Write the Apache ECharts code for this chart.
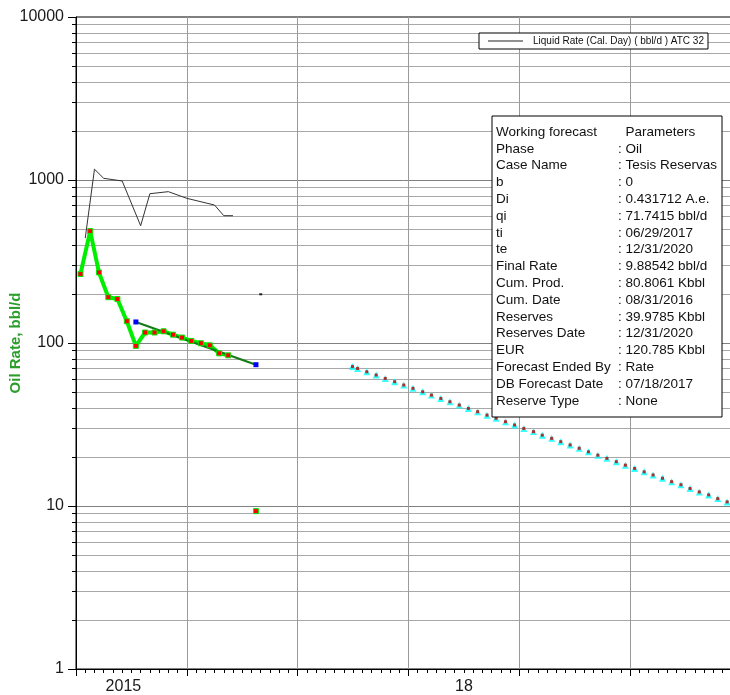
<!DOCTYPE html>
<html>
<head>
<meta charset="utf-8">
<script src="https://cdn.jsdelivr.net/npm/echarts@6/dist/echarts.min.js"></script>
<style>
html, body { margin: 0; padding: 0; background: #fff; }
#chart { width: 730px; height: 695px; }
</style>
</head>
<body>
<div id="chart"></div>
<script>
// oil rate, bbl/d (monthly, plotted mid-month)
const oilDates = ['2015-01-16', '2015-02-16', '2015-03-16', '2015-04-16', '2015-05-16', '2015-06-16',
	'2015-07-16', '2015-08-16', '2015-09-16', '2015-10-16', '2015-11-16', '2015-12-16',
	'2016-01-16', '2016-02-16', '2016-03-16', '2016-04-16', '2016-05-16', '2016-06-16',
	'2016-07-16', '2016-08-16'];
const oilRates = [265, 486, 271, 191, 186, 136, 96, 116, 116, 118, 112.5, 108,
	103, 99.6, 96.8, 86.4, 84, null, null, 9.3];

// liquid rate (cal. day), bbl/d
const liqDates = ['2015-02-01', '2015-03-01', '2015-04-01', '2015-06-01', '2015-08-01', '2015-09-01',
	'2015-11-01', '2016-01-01', '2016-04-01', '2016-05-01', '2016-06-01', '2016-07-01', '2016-09-01'];
const liqRates = [440, 1165, 1024, 986, 524, 824, 848, 772, 702, 604, 604, null, 199];

// fitted decline over history
const fitDates = ['2015-07-16', '2016-08-16'];
const fitRates = [134.6, 73.6];

// forecast: start at ti, then monthly to te
const fcStart = '2017-06-29';
const fcEnd = '2020-12-31';
const fcRates = [71.7, 69.8, 66.6, 63.6, 60.6, 57.9, 55.2, 52.7, 50.2, 47.9, 45.7, 43.6, 41.6,
	39.7, 37.9, 36.1, 34.5, 32.9, 31.4, 29.9, 28.6, 27.2, 26.0, 24.8, 23.7, 22.6, 21.5,
	20.5, 19.6, 18.7, 17.8, 17.0, 16.2, 15.5, 14.8, 14.1, 13.5, 12.8, 12.2, 11.7, 11.1,
	10.6, 10.1, 9.9];

const yearLabels = { 0: '{a|2015}', 36: '18' };

const paramNames = ['Working forecast', 'Phase', 'Case Name', 'b', 'Di', 'qi', 'ti', 'te', 'Final Rate',
	'Cum. Prod.', 'Cum. Date', 'Reserves', 'Reserves Date', 'EUR', 'Forecast Ended By',
	'DB Forecast Date', 'Reserve Type'];
const paramValues = ['  Parameters', ': Oil', ': Tesis Reservas', ': 0', ': 0.431712 A.e.', ': 71.7415 bbl/d',
	': 06/29/2017', ': 12/31/2020', ': 9.88542 bbl/d', ': 80.8061 Kbbl', ': 08/31/2016',
	': 39.9785 Kbbl', ': 12/31/2020', ': 120.785 Kbbl', ': Rate', ': 07/18/2017', ': None'];

// months since 2015-01-01
function toMonth(s) {
	const p = s.split('-').map(Number);
	const dim = new Date(p[0], p[1], 0).getDate();
	return (p[0] - 2015) * 12 + (p[1] - 1) + (p[2] - 1) / dim;
}
function pairs(dates, vals) {
	return dates.map(function (d, i) { return [toMonth(d), vals[i]]; });
}

// forecast dates: ti, mid-month Jul 2017 .. Dec 2020, te
let fcDates = [fcStart];
for (let m = 30; m < 72; m++) {
	const y = 2015 + Math.floor(m / 12), mo = m % 12 + 1;
	fcDates.push(y + '-' + (mo < 10 ? '0' : '') + mo + '-16');
}
fcDates.push(fcEnd);
const fcData = pairs(fcDates, fcRates);

let liqData = pairs(liqDates, liqRates);
liqData[liqData.length - 1] = {
	value: liqData[liqData.length - 1], symbol: 'rect', symbolSize: [3, 2],
	itemStyle: { color: '#222' }
};

let graphics = [{
	type: 'rect', shape: { x: 492, y: 116, width: 230, height: 301 },
	style: { fill: '#fff', stroke: '#000', lineWidth: 1 }, z: 100
}];
paramNames.forEach(function (t, i) {
	const y = 132 + i * 16.8;
	graphics.push({ type: 'text', x: 496, y: y, z: 101,
		style: { text: t, font: '13.5px "Liberation Sans", Arial', fill: '#111', verticalAlign: 'middle' } });
	graphics.push({ type: 'text', x: 618, y: y, z: 101,
		style: { text: paramValues[i], font: '13.5px "Liberation Sans", Arial', fill: '#111', verticalAlign: 'middle' } });
});

const chart = echarts.init(document.getElementById('chart'));
chart.setOption({
	animation: false,
	backgroundColor: '#fff',
	textStyle: { fontFamily: '"Liberation Sans", Arial' },
	grid: {
		left: 76, right: -11, top: 17, bottom: 26, containLabel: false, outerBoundsMode: 'none',
		show: true, borderColor: '#000', borderWidth: 1
	},
	legend: {
		left: 479, top: 33, padding: [1.5, 4, 1.5, 9], itemGap: 0,
		itemWidth: 35, itemHeight: 1.2, icon: 'rect',
		borderColor: '#000', borderWidth: 1, backgroundColor: '#fff', borderRadius: 0,
		textStyle: { fontSize: 10, color: '#111', padding: [0, 0, 0, 5], lineHeight: 13 },
		data: ['Liquid Rate (Cal. Day) ( bbl/d ) ATC 32']
	},
	xAxis: [{
		type: 'value', min: 0, max: 72, interval: 12,
		axisLine: { lineStyle: { color: '#000' } },
		axisTick: { length: 7, lineStyle: { color: '#000' } },
		minorTick: { show: true, splitNumber: 12, length: 4, lineStyle: { color: '#000' } },
		splitLine: { show: true, lineStyle: { color: '#9a9a9a' } },
		axisLabel: { show: false }
	}, {
		type: 'value', min: -6, max: 66, interval: 6, position: 'bottom',
		axisLine: { show: false }, axisTick: { show: false }, splitLine: { show: false },
		axisLabel: {
			margin: 10, fontSize: 16, color: '#1a1a1a',
			formatter: function (v) { return yearLabels[v] || ''; },
			rich: { a: { fontSize: 16, color: '#1a1a1a', padding: [0, 16, 0, 0] } }
		}
	}],
	yAxis: {
		type: 'log', logBase: 10, min: 1, max: 10000,
		name: 'Oil Rate, bbl/d', nameLocation: 'middle', nameRotate: 90, nameGap: 53,
		nameMoveOverlap: false,
		nameTextStyle: { color: '#2a9d2a', fontSize: 15, fontWeight: 'bold' },
		axisLine: { show: true, lineStyle: { color: '#000' } },
		axisTick: { show: true, length: 8, lineStyle: { color: '#000' } },
		minorTick: { show: true, splitNumber: 9, length: 4, lineStyle: { color: '#000' } },
		splitLine: { show: true, lineStyle: { color: '#808080' } },
		minorSplitLine: { show: true, lineStyle: { color: '#a8a8a8' } },
		axisLabel: { margin: 12, fontSize: 16, color: '#1a1a1a', formatter: function (v) { return String(v); } }
	},
	graphic: graphics,
	series: [{
		name: 'Liquid Rate (Cal. Day) ( bbl/d ) ATC 32', type: 'line',
		data: liqData, symbol: 'none', showSymbol: true,
		lineStyle: { color: '#333', width: 1 }, itemStyle: { color: '#222' }
	}, {
		name: 'Oil', type: 'line', data: pairs(oilDates, oilRates),
		symbol: 'rect', symbolSize: 5, showAllSymbol: true,
		lineStyle: { color: '#00ee00', width: 4 },
		itemStyle: { color: '#ff0000', borderColor: '#00ee00', borderWidth: 1 }
	}, {
		name: 'Fit', type: 'line', data: pairs(fitDates, fitRates),
		symbol: 'rect', symbolSize: 5,
		lineStyle: { color: '#157a15', width: 2 },
		itemStyle: { color: '#0000ff' }
	}, {
		name: 'Forecast', type: 'scatter', data: fcData,
		symbol: 'triangle', symbolSize: 7, itemStyle: { color: '#00ffff' }
	}, {
		name: 'ForecastPts', type: 'scatter', data: fcData,
		symbol: 'rect', symbolSize: 3, itemStyle: { color: '#c00000' }
	}]
});
</script>
</body>
</html>
